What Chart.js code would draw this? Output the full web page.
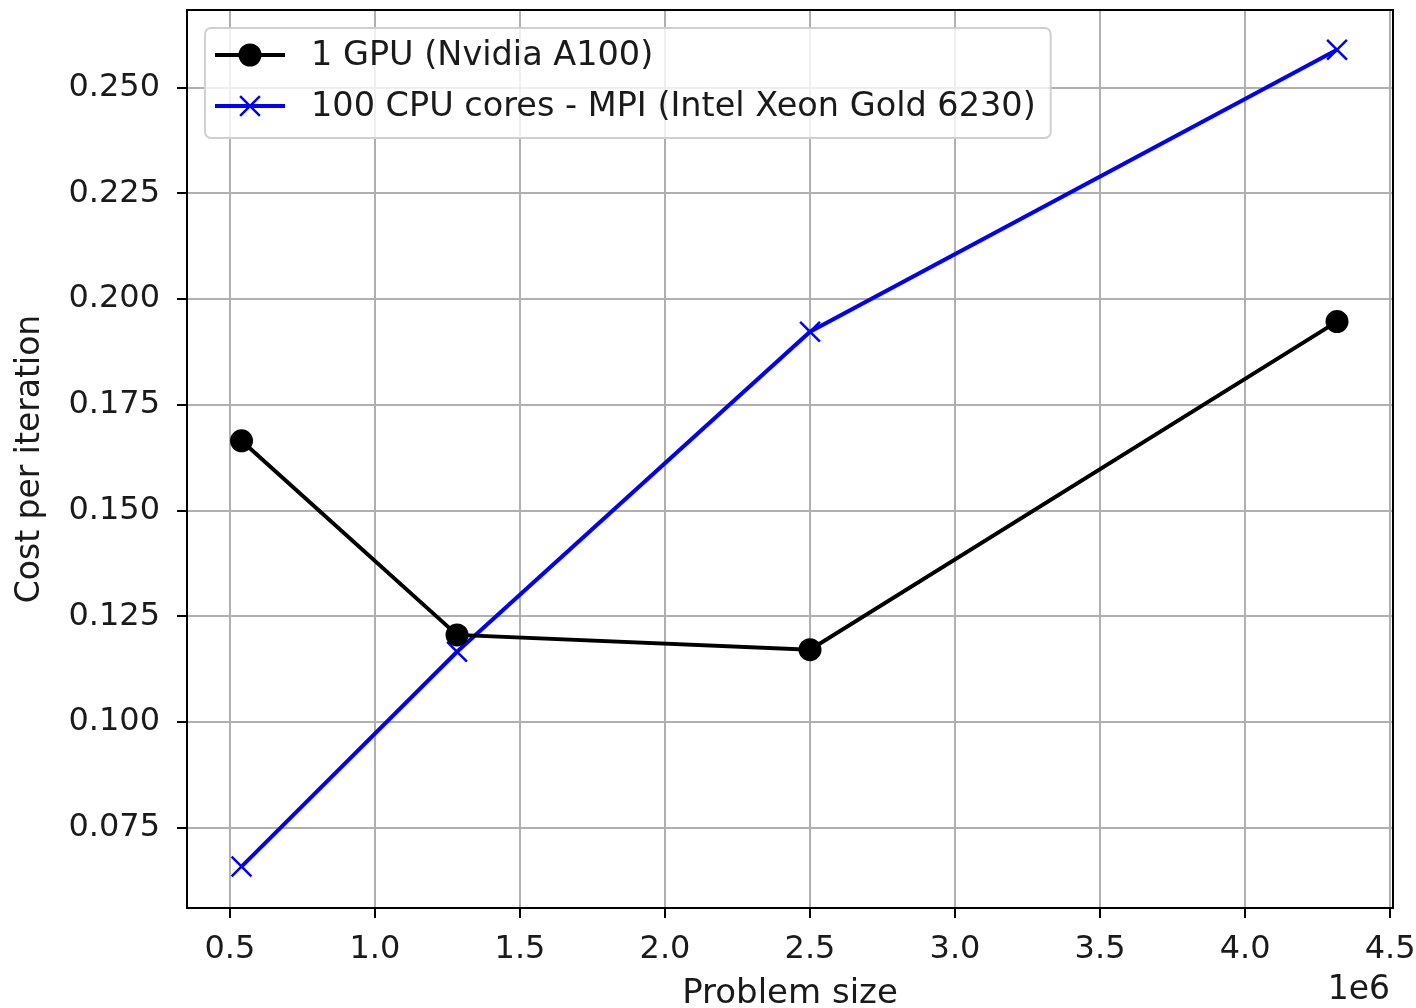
<!DOCTYPE html>
<html>
<head>
<meta charset="utf-8">
<script src="https://cdn.jsdelivr.net/npm/chart.js@4.4.1/dist/chart.umd.min.js"></script>
<style>
  html, body { margin: 0; padding: 0; background: #fff; }
  #wrap { width: 1416px; height: 1008px; position: relative; }
</style>
</head>
<body>
<div id="wrap"><canvas id="chart"></canvas></div>
<script>
// data (problem size in raw units, x axis shows them in 1e6)
const problemSizes = [540000, 1283000, 2500000, 4317000];
const gpuCost = [0.1665, 0.1206, 0.1171, 0.1947];
const cpuCost = [0.0658, 0.1166, 0.1923, 0.2590];
const seriesNames = ['1 GPU (Nvidia A100)', '100 CPU cores - MPI (Intel Xeon Gold 6230)'];
const xTicks = [0.5e6, 1.0e6, 1.5e6, 2.0e6, 2.5e6, 3.0e6, 3.5e6, 4.0e6, 4.5e6];
const yTicks = [0.075, 0.100, 0.125, 0.150, 0.175, 0.200, 0.225, 0.250];

const FONT = 'DejaVu Sans';
const TXT = '#1a1a1a';

const toPoints = (xs, ys) => xs.map((x, i) => ({ x, y: ys[i] }));

// frame (all four spines) + "1e6" offset text
const framePlugin = {
  id: 'frame',
  afterDatasetsDraw(chart) {
    const { ctx, chartArea: a } = chart;
    ctx.save();
    ctx.strokeStyle = '#000';
    ctx.lineWidth = 2;
    ctx.strokeRect(a.left, a.top, a.right - a.left, a.bottom - a.top);
    ctx.fillStyle = TXT;
    ctx.font = '33px "' + FONT + '"';
    ctx.textAlign = 'right';
    ctx.textBaseline = 'middle';
    ctx.fillText('1e6', a.right - 3, 990);
    ctx.restore();
  }
};

// matplotlib-like legend in the upper left corner
const legendPlugin = {
  id: 'mplLegend',
  afterDraw(chart) {
    const { ctx, chartArea: a } = chart;
    const sets = chart.data.datasets;
    ctx.save();
    ctx.font = '33.5px "' + FONT + '"';
    const textW = Math.max(...sets.map(d => ctx.measureText(d.label).width));
    const x = a.left + 18, y = a.top + 18;
    const w = 106 + textW + 15, h = 110;
    ctx.beginPath();
    ctx.roundRect(x, y, w, h, 6);
    ctx.fillStyle = 'rgba(255,255,255,0.8)';
    ctx.fill();
    ctx.strokeStyle = '#d0d0d0';
    ctx.lineWidth = 2;
    ctx.stroke();

    sets.forEach((d, i) => {
      const cy = y + 27 + i * 51;
      ctx.strokeStyle = d.borderColor;
      ctx.lineWidth = d.borderWidth;
      ctx.beginPath();
      ctx.moveTo(x + 10, cy);
      ctx.lineTo(x + 80, cy);
      ctx.stroke();
      const mx = x + 45;
      if (d.pointStyle === 'circle') {
        ctx.fillStyle = d.pointBackgroundColor;
        ctx.beginPath();
        ctx.arc(mx, cy, d.pointRadius, 0, Math.PI * 2);
        ctx.fill();
      } else {
        const r = d.pointRadius * Math.SQRT1_2;
        ctx.lineWidth = d.pointBorderWidth;
        ctx.beginPath();
        ctx.moveTo(mx - r, cy - r); ctx.lineTo(mx + r, cy + r);
        ctx.moveTo(mx - r, cy + r); ctx.lineTo(mx + r, cy - r);
        ctx.stroke();
      }
      ctx.fillStyle = TXT;
      ctx.textAlign = 'left';
      ctx.textBaseline = 'middle';
      ctx.fillText(d.label, x + 106, cy + 1);
    });
    ctx.restore();
  }
};

new Chart(document.getElementById('chart'), {
  type: 'line',
  data: {
    datasets: [
      {
        label: seriesNames[0],
        data: toPoints(problemSizes, gpuCost),
        borderColor: '#000000',
        backgroundColor: '#000000',
        borderWidth: 4,
        pointStyle: 'circle',
        pointRadius: 11.5,
        pointBackgroundColor: '#000000',
        pointBorderColor: '#000000',
        pointBorderWidth: 0,
        tension: 0
      },
      {
        label: seriesNames[1],
        data: toPoints(problemSizes, cpuCost),
        borderColor: '#0000ff',
        backgroundColor: '#0000ff',
        borderWidth: 4,
        pointStyle: 'crossRot',
        pointRadius: 14,
        pointBorderColor: '#0000ff',
        pointBorderWidth: 2.5,
        tension: 0
      }
    ]
  },
  options: {
    responsive: true,
    maintainAspectRatio: false,
    animation: false,
    events: [],
    // autoPadding would reserve room for the big markers and push the plot down
    layout: { autoPadding: false, padding: { top: 10, right: 23, left: 0, bottom: 0 } },
    plugins: {
      legend: { display: false },
      tooltip: { enabled: false }
    },
    scales: {
      x: {
        type: 'linear',
        min: 352000,
        max: 4510000,
        afterBuildTicks: s => { s.ticks = xTicks.map(v => ({ value: v })); },
        afterFit: s => { s.height = 100; s.paddingLeft = 0; s.paddingRight = 0; },
        grid: { color: '#b0b0b0', lineWidth: 2, tickColor: '#000', tickLength: 10, tickWidth: 2 },
        border: { display: false },
        ticks: {
          color: TXT,
          font: { family: FONT, size: 32 },
          padding: 12,
          maxRotation: 0,
          autoSkip: false,
          callback: v => (v / 1e6).toFixed(1)
        },
        title: {
          display: true,
          text: 'Problem size',
          color: TXT,
          font: { family: FONT, size: 34, lineHeight: 0.8 },
          padding: { top: 0, bottom: 0 }
        }
      },
      y: {
        type: 'linear',
        min: 0.0560,
        max: 0.2684,
        afterBuildTicks: s => { s.ticks = yTicks.map(v => ({ value: v })); },
        afterFit: s => { s.width = 187; s.paddingTop = 0; s.paddingBottom = 0; },
        grid: { color: '#b0b0b0', lineWidth: 2, tickColor: '#000', tickLength: 10, tickWidth: 2 },
        border: { display: false },
        ticks: {
          color: TXT,
          font: { family: FONT, size: 32 },
          padding: 17,
          autoSkip: false,
          callback: v => v.toFixed(3)
        },
        title: {
          display: true,
          text: 'Cost per iteration',
          color: TXT,
          font: { family: FONT, size: 33, lineHeight: 1 },
          padding: { top: 14, bottom: 0 }
        }
      }
    }
  },
  plugins: [framePlugin, legendPlugin]
});
</script>
</body>
</html>
